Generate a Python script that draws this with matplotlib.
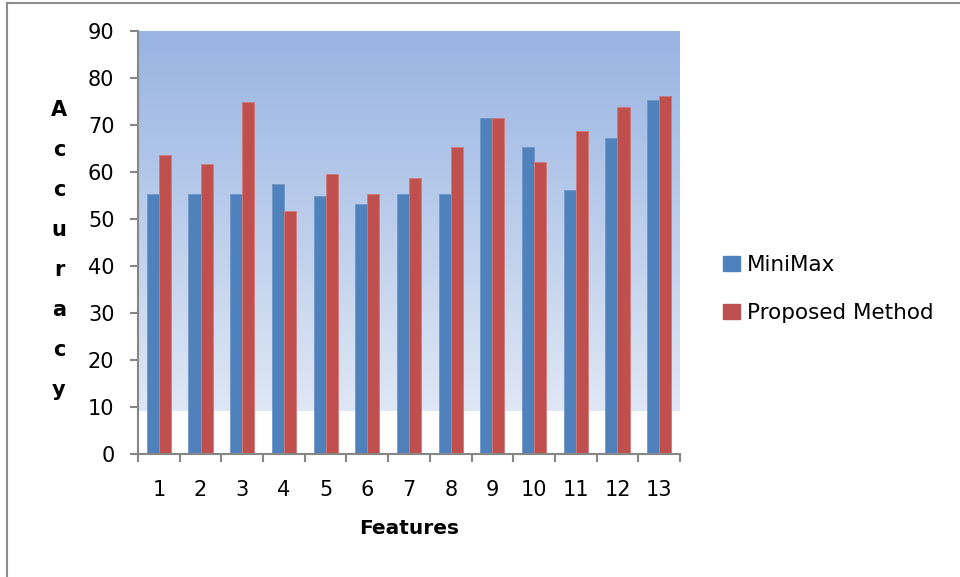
import numpy as np
import matplotlib
matplotlib.use("Agg")
import matplotlib.pyplot as plt
from matplotlib.colors import LinearSegmentedColormap
from matplotlib.lines import Line2D

plt.rcParams['font.family'] = ['DejaVu Sans']

# data
features = [str(i) for i in range(1, 14)]
minimax = [55.4, 55.4, 55.4, 57.5, 55.0, 53.2, 55.4, 55.4, 71.4, 65.3, 56.1, 67.3, 75.4]
proposed = [63.6, 61.7, 75.0, 51.7, 59.5, 55.4, 58.7, 65.3, 71.4, 62.1, 68.7, 73.9, 76.1]
series_names = ["MiniMax", "Proposed Method"]
y_ticks = list(range(0, 100, 10))

BLUE = "#4f81bd"
RED = "#c0504d"
AXIS_GREY = "#868686"

fig = plt.figure(figsize=(9.6, 5.77), dpi=100)
ax = fig.add_axes([138 / 960, 1 - 454 / 577, 542 / 960, 423 / 577])

x = np.arange(1, len(features) + 1)
w = 0.29

# gradient background (stops a little above 9, as in the original)
grad = LinearSegmentedColormap.from_list("bg", ["#dfe7f5", "#98b4e2"])
ax.imshow(np.linspace(0, 1, 256).reshape(-1, 1), cmap=grad, origin="lower",
          extent=[0.5, len(features) + 0.5, 9.2, 90], aspect="auto", zorder=0)

ax.bar(x - w / 2, minimax, w, color=BLUE, edgecolor="#7096c8", linewidth=0.6, zorder=2)
ax.bar(x + w / 2, proposed, w, color=RED, edgecolor="#d07a78", linewidth=0.6, zorder=2)

ax.set_xlim(0.5, len(features) + 0.5)
ax.set_ylim(0, 90)

for side in ["top", "right"]:
    ax.spines[side].set_visible(False)
for side in ["left", "bottom"]:
    ax.spines[side].set_color(AXIS_GREY)
    ax.spines[side].set_linewidth(1.5)

ax.set_yticks(y_ticks)
ax.tick_params(axis="y", length=6, width=1.5, color=AXIS_GREY, pad=11, labelsize=15)
ax.set_xticks(x)
ax.set_xticklabels(features)
ax.tick_params(axis="x", which="major", length=0, pad=19, labelsize=15)
ax.set_xticks(np.arange(0.5, len(features) + 1.5, 1), minor=True)
ax.tick_params(axis="x", which="minor", length=6, width=1.5, color=AXIS_GREY)

# axis titles
fig.text(409 / 960, 1 - 529 / 577, "Features", ha="center", va="center",
         fontsize=14.5, fontweight="bold")
fig.text(59 / 960, 1 - 250 / 577, "\n".join("Accuracy"), ha="center", va="center",
         fontsize=15, fontweight="bold", linespacing=2.25)

# legend
handles = [plt.Rectangle((0, 0), 1, 1, color=BLUE), plt.Rectangle((0, 0), 1, 1, color=RED)]
fig.legend(handles, series_names, loc="center left", bbox_to_anchor=(704 / 960, 1 - 289 / 577),
           frameon=False, fontsize=15.5, handlelength=0.75, handleheight=0.75,
           handletextpad=0.35, labelspacing=1.3)

# chart area border (top and left edges visible)
fig.add_artist(Line2D([7 / 960, 7 / 960], [0, 1 - 2.5 / 577], transform=fig.transFigure,
                      color="#8c8c8c", linewidth=1.5))
fig.add_artist(Line2D([7 / 960, 1], [1 - 2.5 / 577, 1 - 2.5 / 577], transform=fig.transFigure,
                      color="#8c8c8c", linewidth=1.5))

fig.savefig("out.png", dpi=100)
